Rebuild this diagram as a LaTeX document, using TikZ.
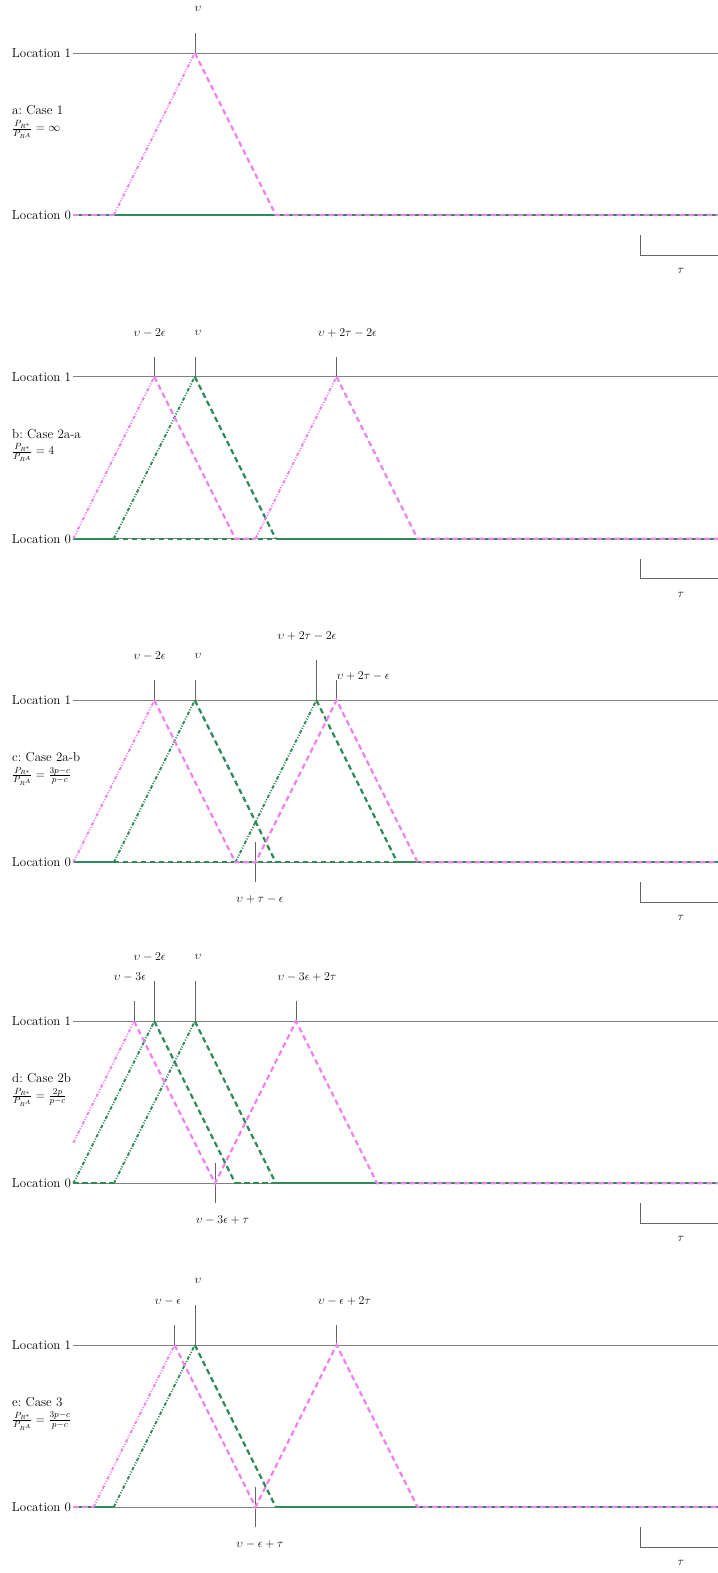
\documentclass[tikz,border=0pt]{standalone}
\usepackage{amsmath}
\definecolor{mag}{RGB}{238,130,238}
\definecolor{grn}{RGB}{46,139,87}
\tikzset{
  baseline line/.style={gray, line width=0.8pt},
  tickline/.style={gray!80!black, line width=0.6pt},
  gsolid/.style={grn, line width=2.2pt},
  gdash/.style={grn, line width=2.2pt, dash pattern=on 5.5pt off 3.5pt},
  gdd/.style={grn, line width=1.9pt, dash pattern=on 3.5pt off 1.6pt on 1pt off 1.6pt on 1pt off 1.6pt},
  mdash/.style={mag, line width=2.2pt, dash pattern=on 5.5pt off 3.5pt},
  mdd/.style={mag, line width=1.9pt, dash pattern=on 3.5pt off 1.6pt on 1pt off 1.6pt on 1pt off 1.6pt},
  lbl/.style={font=\fontsize{13}{15.6}\selectfont, inner sep=0pt},
  loclbl/.style={font=\fontsize{13}{15.6}\selectfont, anchor=east, inner sep=2pt},
  caselbl/.style={font=\fontsize{13}{15.6}\selectfont, anchor=west, inner sep=0pt},
  panel/.style={x=81pt, y=162pt},
}
\newcommand{\axes}[1]{%
  \draw[baseline line] (0,1) -- (8,1);
  \draw[baseline line] (0,0) -- (8,0);
  \node[loclbl] (#1l1) at (0,1) {Location 1};
  \node[loclbl] (#1l0) at (0,0) {Location 0};
  \draw[tickline] (7,0) ++(0,-20pt) coordinate (#1sa) -- ++(0,-20pt) coordinate (#1sb) -- ++(1,0) coordinate (#1sc);
  \node[lbl] (#1tau) at ([yshift=-56pt]7.5,0) {$\tau$};
}
\newcommand{\toptick}[5]{% name, x, height, label, label x
  \draw[tickline] (#2,1) -- ++(0,#3pt) coordinate (#1);
  \node[lbl] (#1t) at ([yshift=#3pt+24pt]#5,1) {$#4$};
}
\newcommand{\bottick}[4]{% name, x, label, label x
  \draw[tickline] ([yshift=20pt]#2,0) -- ([yshift=-20pt]#2,0) coordinate (#1);
  \node[lbl] (#1t) at ([yshift=-37pt]#4,0) {$#3$};
}
\begin{document}
\begin{tikzpicture}[x=1pt,y=1pt]
\useasboundingbox (0,0) rectangle (717,-1573);

% ---------------- panel a ----------------
\begin{scope}[shift={(73.3,-215)}, panel]
  \axes{a}
  \toptick{aup}{1.5}{20}{\upsilon}{1.54}
  \draw[gsolid] (0,0) -- (8,0);
  \draw[mdash] (0,0) -- (0.5,0);
  \draw[mdd] (0.5,0) -- (1.5,1);
  \draw[mdash] (1.5,1) -- (2.5,0) -- (8,0);
\end{scope}
\node[caselbl] (acase) at (12,-52.7-57) {a:\ Case 1};
\node[caselbl] (afrac) at (12,-52.7-77) {$\frac{P_{R^*}}{P_{R^A}}=\infty$};

% ---------------- panel b ----------------
\begin{scope}[shift={(73.3,-538.7)}, panel]
  \axes{b}
  \toptick{bt1}{1}{20}{\upsilon-2\epsilon}{0.943}
  \toptick{bt2}{1.5}{20}{\upsilon}{1.54}
  \toptick{bt3}{3.25}{20}{\upsilon+2\tau-2\epsilon}{3.385}
  \draw[gsolid] (0,0) -- (0.5,0);
  \draw[gdash] (0.5,0) -- (2.5,0);
  \draw[gsolid] (2.5,0) -- (8,0);
  \draw[gdd] (0.5,0) -- (1.5,1);
  \draw[gdash] (1.5,1) -- (2.5,0);
  \draw[mdd] (0,0) -- (1,1);
  \draw[mdash] (1,1) -- (2,0) -- (2.25,0);
  \draw[mdd] (2.25,0) -- (3.25,1);
  \draw[mdash] (3.25,1) -- (4.25,0) -- (8,0);
\end{scope}
\node[caselbl] (bcase) at (12,-376.7-57) {b:\ Case 2a-a};
\node[caselbl] (bfrac) at (12,-376.7-76) {$\frac{P_{R^*}}{P_{R^A}}=4$};

% ---------------- panel c ----------------
\begin{scope}[shift={(73.3,-862.3)}, panel]
  \axes{c}
  \toptick{ct1}{1}{20}{\upsilon-2\epsilon}{0.943}
  \toptick{ct2}{1.5}{20}{\upsilon}{1.54}
  \toptick{ct3}{3}{40}{\upsilon+2\tau-2\epsilon}{2.885}
  \draw[tickline] (3.25,1) -- ++(0,20pt) coordinate (ct4);
  \node[lbl, anchor=west] (ct4t) at ([yshift=24pt]3.25,1) {$\upsilon+2\tau-\epsilon$};
  \bottick{cb1}{2.25}{\upsilon+\tau-\epsilon}{2.305}
  \draw[gsolid] (0,0) -- (0.5,0);
  \draw[gdash] (0.5,0) -- (4,0);
  \draw[gsolid] (4,0) -- (8,0);
  \draw[gdd] (0.5,0) -- (1.5,1);
  \draw[gdash] (1.5,1) -- (2.5,0);
  \draw[gdd] (2,0) -- (3,1);
  \draw[gdash] (3,1) -- (4,0);
  \draw[mdd] (0,0) -- (1,1);
  \draw[mdash] (1,1) -- (2,0) -- (2.25,0) -- (3.25,1) -- (4.25,0) -- (8,0);
\end{scope}
\node[caselbl] (ccase) at (12,-700.3-57) {c:\ Case 2a-b};
\node[caselbl] (cfrac) at (12,-700.3-76) {$\frac{P_{R^*}}{P_{R^A}}=\frac{3p-c}{p-c}$};

% ---------------- panel d ----------------
\begin{scope}[shift={(73.3,-1183.3)}, panel]
  \axes{d}
  \toptick{dt1}{0.75}{20}{\upsilon-3\epsilon}{0.70}
  \toptick{dt2}{1}{40}{\upsilon-2\epsilon}{0.943}
  \toptick{dt3}{1.5}{40}{\upsilon}{1.54}
  \toptick{dt4}{2.75}{20}{\upsilon-3\epsilon+2\tau}{2.885}
  \bottick{db1}{1.75}{\upsilon-3\epsilon+\tau}{1.842}
  \draw[gdash] (0,0) -- (0.5,0);
  \draw[gdash] (2,0) -- (2.5,0);
  \draw[gsolid] (2.5,0) -- (8,0);
  \draw[gdd] (0,0) -- (1,1);
  \draw[gdash] (1,1) -- (2,0);
  \draw[gdd] (0.5,0) -- (1.5,1);
  \draw[gdash] (1.5,1) -- (2.5,0);
  \draw[mdd] (0,0.25) -- (0.75,1);
  \draw[mdash] (0.75,1) -- (1.75,0) -- (2.75,1) -- (3.75,0) -- (8,0);
\end{scope}
\node[caselbl] (dcase) at (12,-1021.3-57) {d:\ Case 2b};
\node[caselbl] (dfrac) at (12,-1021.3-76) {$\frac{P_{R^*}}{P_{R^A}}=\frac{2p}{p-c}$};

% ---------------- panel e ----------------
\begin{scope}[shift={(73.3,-1507)}, panel]
  \axes{e}
  \toptick{et1}{1.25}{20}{\upsilon-\epsilon}{1.169}
  \toptick{et2}{1.5}{40}{\upsilon}{1.54}
  \toptick{et3}{3.25}{20}{\upsilon-\epsilon+2\tau}{3.348}
  \bottick{eb1}{2.25}{\upsilon-\epsilon+\tau}{2.305}
  \draw[gsolid] (0,0) -- (0.5,0);
  \draw[gsolid] (2.5,0) -- (8,0);
  \draw[gdd] (0.5,0) -- (1.5,1);
  \draw[gdash] (1.5,1) -- (2.5,0);
  \draw[mdash] (0,0) -- (0.25,0);
  \draw[mdd] (0.25,0) -- (1.25,1);
  \draw[mdash] (1.25,1) -- (2.25,0) -- (3.25,1) -- (4.25,0) -- (8,0);
\end{scope}
\node[caselbl] (ecase) at (12,-1345-57) {e:\ Case 3};
\node[caselbl] (efrac) at (12,-1345-76) {$\frac{P_{R^*}}{P_{R^A}}=\frac{3p-c}{p-c}$};
\end{tikzpicture}
\end{document}
